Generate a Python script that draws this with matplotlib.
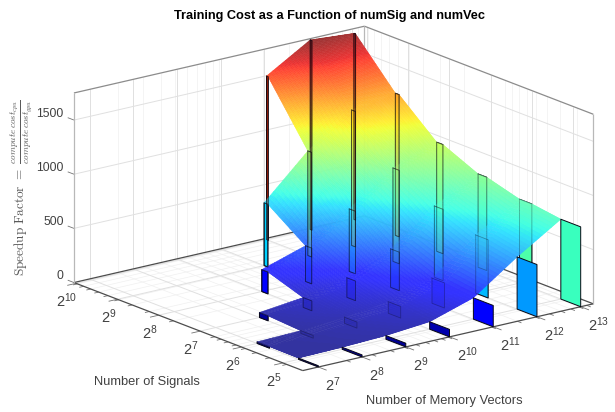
import numpy as np
import matplotlib
matplotlib.use("Agg")
import matplotlib.pyplot as plt
from mpl_toolkits.mplot3d.art3d import Poly3DCollection, Line3DCollection

plt.rcParams['font.family'] = ['Liberation Sans', 'DejaVu Sans']

# ---- data (log2 of axes values, speedup) ----
mem_exp = [7, 8, 9, 10, 11, 12, 13]
sig_exp = [5, 6, 7, 8, 9, 10]
sig_front = [4.52, 5.70, 6.79, 7.85, 8.91, 9.96]
nan = float('nan')
speedup_sig5 = [12, 19, 34, 69, 197, 482, 737]
speedup_sig6 = [15, 25, 56, 107, 232, 537, 775]
speedup_sig7 = [nan, 46, 91, 181, 355, 658, 861]
speedup_sig8 = [nan, nan, 202, 330, 577, 862, 1007]
speedup_sig9 = [nan, nan, nan, 579, 965, 1250, 1312]
speedup_sig10 = [nan, nan, nan, nan, 1509, 1750, 1718]
speedup = [speedup_sig5, speedup_sig6, speedup_sig7, speedup_sig8, speedup_sig9, speedup_sig10]
title = "Training Cost as a Function of numSig and numVec"
z_ticks = [0, 500, 1000, 1500]

UMIN, UMAX = np.log2(100), np.log2(10000)
VMIN, VMAX = 4.52, 10.05
ZMAX = 1750
GREY = (0.25, 0.25, 0.25)

fig = plt.figure(figsize=(6.15, 4.12), dpi=100, facecolor='white')
S = 600
cx, cy = 325.5, 205.5
ax = fig.add_axes([(cx - S/2)/615, (cy - S/2)/412, S/615, S/412], projection='3d',
                  proj_type='ortho', computed_zorder=False)
ax.patch.set_alpha(0)
ax.view_init(elev=17.3, azim=-127.7)
ax.set_box_aspect((368, 375, 199), zoom=0.907)
ax.set_xlim(UMIN, UMAX, view_margin=0)
ax.set_ylim(VMIN, VMAX, view_margin=0)
ax.set_zlim(0, ZMAX, view_margin=0)
ax.grid(False)

for axis in (ax.xaxis, ax.yaxis, ax.zaxis):
    axis.set_pane_color((1, 1, 1, 1))
    axis.pane.set_edgecolor((1, 1, 1, 0))
    axis.line.set_color((1, 1, 1, 0))
    axis._axinfo['tick']['inward_factor'] = 0
    axis._axinfo['tick']['outward_factor'] = 0

ax.set_xticks(mem_exp, [f'$\\mathdefault{{2^{{{e}}}}}$' for e in mem_exp])
ax.set_yticks(sig_exp, [f'$\\mathdefault{{2^{{{e}}}}}$' for e in sig_exp])
ax.set_zticks(z_ticks, [str(t) for t in z_ticks])
ax.tick_params(axis='x', labelsize=10.5, labelcolor=GREY, pad=-1, length=0)
ax.tick_params(axis='y', labelsize=10.5, labelcolor=GREY, pad=-1, length=0)
ax.tick_params(axis='z', labelsize=8.8, labelcolor=GREY, pad=-3.5, length=0)
for lab in ax.get_xticklabels():
    lab.set_ha('left')
for lab in ax.get_zticklabels():
    lab.set_ha('right')
    lab.set_va('bottom')

# ---- grid, ticks, frame ----
def log_minor(lo, hi):
    vals = [m * 10**k for k in range(0, 5) for m in range(1, 10)]
    return [np.log2(v) for v in vals if lo < np.log2(v) < hi]

minor_u, minor_v = log_minor(UMIN, UMAX), log_minor(VMIN, VMAX)
seg_minor, seg_major = [], []
for u in minor_u:
    seg_minor += [[(u, VMIN, 0), (u, VMAX, 0)], [(u, VMAX, 0), (u, VMAX, ZMAX)]]
for v in minor_v:
    seg_minor += [[(UMIN, v, 0), (UMAX, v, 0)], [(UMAX, v, 0), (UMAX, v, ZMAX)]]
for u in mem_exp:
    seg_major += [[(u, VMIN, 0), (u, VMAX, 0)], [(u, VMAX, 0), (u, VMAX, ZMAX)]]
for v in sig_exp:
    seg_major += [[(UMIN, v, 0), (UMAX, v, 0)], [(UMAX, v, 0), (UMAX, v, ZMAX)]]
for z in z_ticks[1:]:
    seg_major += [[(UMIN, VMAX, z), (UMAX, VMAX, z)], [(UMAX, VMIN, z), (UMAX, VMAX, z)]]
ax.add_collection3d(Line3DCollection(seg_minor, colors=[(0.94, 0.94, 0.94)], linewidths=0.5, zorder=1))
ax.add_collection3d(Line3DCollection(seg_major, colors=[(0.88, 0.88, 0.88)], linewidths=0.7, zorder=1.1))

ticks = []
for u in mem_exp:
    ticks.append([(u, VMIN, 0), (u, VMIN - 0.2, 0)])
for u in minor_u:
    ticks.append([(u, VMIN, 0), (u, VMIN - 0.1, 0)])
for v in sig_exp:
    ticks.append([(UMIN, v, 0), (UMIN - 0.2, v, 0)])
for v in minor_v:
    ticks.append([(UMIN, v, 0), (UMIN - 0.1, v, 0)])
for z in z_ticks:
    ticks.append([(UMIN, VMAX, z), (UMIN, VMAX + 0.15, z)])
ax.add_collection3d(Line3DCollection(ticks, colors=[(0.45, 0.45, 0.45)], linewidths=0.6, zorder=1.2))

dark = [[(UMIN, VMAX, 0), (UMIN, VMIN, 0)], [(UMIN, VMIN, 0), (UMAX, VMIN, 0)],
        [(UMIN, VMAX, 0), (UMAX, VMAX, 0)], [(UMAX, VMAX, 0), (UMAX, VMIN, 0)]]
ax.add_collection3d(Line3DCollection(dark, colors=[(0.3, 0.3, 0.3)], linewidths=0.9, zorder=1.3))
top = [[(UMIN, VMAX, ZMAX), (UMAX, VMAX, ZMAX)], [(UMAX, VMAX, ZMAX), (UMAX, VMIN, ZMAX)]]
ax.add_collection3d(Line3DCollection(top, colors=[(0.55, 0.55, 0.55)], linewidths=0.9, zorder=1.3))
vert = [[(UMIN, VMAX, 0), (UMIN, VMAX, ZMAX)], [(UMAX, VMAX, 0), (UMAX, VMAX, ZMAX)],
        [(UMAX, VMIN, 0), (UMAX, VMIN, ZMAX)]]
ax.add_collection3d(Line3DCollection(vert, colors=[(0.72, 0.72, 0.72)], linewidths=0.9, zorder=1.3))

# ---- surface ----
jet = plt.get_cmap('jet')
EDGE = (0.03, 0.03, 0.08)


def wall_polys(r):
    polys, cols = [], []
    for u, z in zip(mem_exp, speedup[r]):
        if np.isnan(z):
            continue
        v0, v1 = sig_front[r], sig_exp[r]
        polys.append([(u, v0, 0), (u, v1, 0), (u, v1, z), (u, v0, z)])
        cols.append(jet(z / ZMAX))
    return polys, cols


def band(z_lo_row, z_hi_row, v_lo, v_hi, nv):
    """Smooth-coloured (opaque, already blended with white) patches between two lines of values."""
    polys, cols = [], []
    nu = 14
    for i in range(len(mem_exp) - 1):
        vals4 = (z_lo_row[i], z_lo_row[i + 1], z_hi_row[i], z_hi_row[i + 1])
        if np.any(np.isnan(vals4)):
            continue
        ss = np.linspace(0, 1, nu + 1)
        tt = np.linspace(0, 1, nv + 1)
        for a0, a1 in zip(ss[:-1], ss[1:]):
            for b0, b1 in zip(tt[:-1], tt[1:]):
                quad = []
                for a, b in ((a0, b0), (a1, b0), (a1, b1), (a0, b1)):
                    u = mem_exp[i] + a
                    v = v_lo + (v_hi - v_lo) * b
                    z = ((1 - a) * (1 - b) * z_lo_row[i] + a * (1 - b) * z_lo_row[i + 1]
                         + (1 - a) * b * z_hi_row[i] + a * b * z_hi_row[i + 1])
                    quad.append((u, v, z))
                polys.append(quad)
                zm = np.mean([q[2] for q in quad])
                rgb = 0.8 * np.array(jet(zm / ZMAX)[:3]) + 0.2
                cols.append((*rgb, 1.0))
    return polys, cols


order = 2.0
for r in range(len(sig_exp) - 1, -1, -1):
    polys, cols = wall_polys(r)
    ax.add_collection3d(Poly3DCollection(polys, facecolors=cols, edgecolors=[EDGE], linewidths=0.7, zorder=order))
    order += 0.1
    if r == 0:
        break
    # flat top of this row's walls, then the sheet down to the next row
    p1, c1 = band(speedup[r], speedup[r], sig_front[r], sig_exp[r], 2)
    p2, c2 = band(speedup[r - 1], speedup[r], sig_exp[r - 1], sig_front[r], 48)
    ps, cs = p1 + p2, c1 + c2
    ax.add_collection3d(Poly3DCollection(ps, facecolors=cs, edgecolors=cs, linewidths=0.35, zorder=order))
    order += 0.1
    # walls behind the sheet show through it
    for rr in range(r, len(sig_exp)):
        polys, cols = wall_polys(rr)
        ghost = [(*c[:3], 0.07) for c in cols]
        ax.add_collection3d(Poly3DCollection(polys, facecolors=ghost, edgecolors=[(*EDGE, 0.3)],
                                             linewidths=0.6, zorder=order))
        order += 0.01

# ---- text ----
fig.text(329 / 615, 1 - 16 / 412, title, ha='center', va='center', fontsize=9.2, fontweight='bold', color='black')
fig.text(147 / 615, 1 - 382 / 412, 'Number of Signals', ha='center', va='center', fontsize=9.3, color=GREY)
fig.text(444 / 615, 1 - 401 / 412, 'Number of Memory Vectors', ha='center', va='center', fontsize=9.3, color=GREY)
fig.text(21 / 615, 1 - 188 / 412,
         r'$\mathrm{Speedup\ Factor}\ =\ \frac{compute\,cost_{cpu}}{compute\,cost_{gpu}}$',
         rotation=90, ha='center', va='center', fontsize=9.5, color=(0.35, 0.35, 0.35), math_fontfamily='cm')

fig.savefig('out.png', dpi=100, facecolor='white')
